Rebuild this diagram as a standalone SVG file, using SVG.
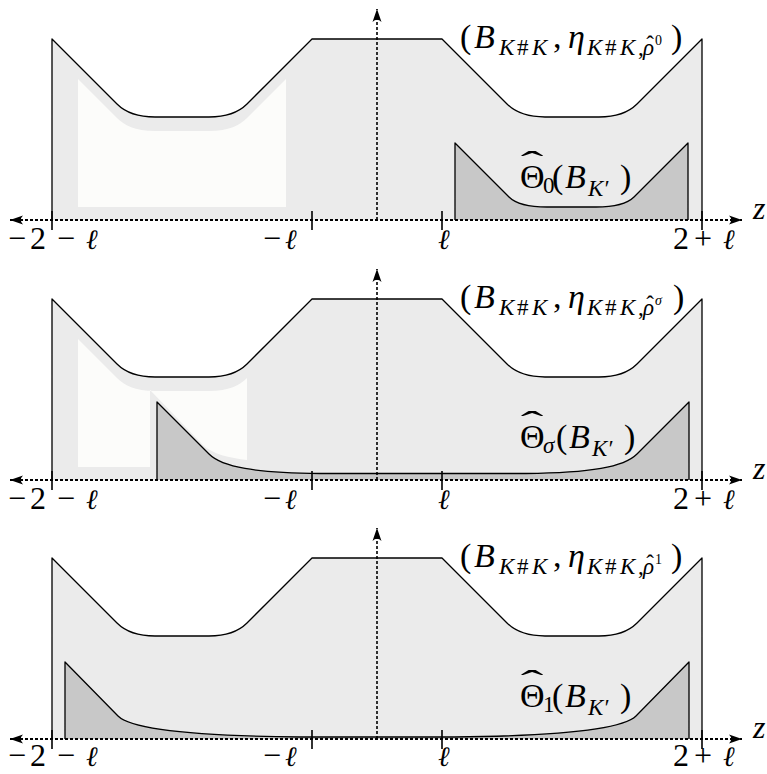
<svg xmlns="http://www.w3.org/2000/svg" width="767" height="774" viewBox="0 0 767 774">
<style>
.bg{fill:#ffffff}
.main{fill:#ebebeb;stroke:#000;stroke-width:1.3;stroke-linejoin:round}
.white{fill:#fcfcfa}
.theta{fill:#c8c8c8;stroke:#000;stroke-width:1.3;stroke-linejoin:round}
.axis{fill:none;stroke:#000;stroke-width:2;stroke-dasharray:3 2}
.vaxis{fill:none;stroke:#000;stroke-width:1.6;stroke-dasharray:3 2}
.tick{stroke:#000;stroke-width:1.6}
.m{font-family:"Liberation Serif","DejaVu Serif",serif;font-size:34px;fill:#000}
.ax{font-size:32px}
.s{font-size:23px}
.ss{font-size:14px}
.i{font-style:italic}
.ell{font-family:"DejaVu Serif","Liberation Serif",serif;font-style:italic;font-size:28px}
</style>
<defs>
<marker id="arr" viewBox="-14 -6 15 12" refX="0" refY="0" markerWidth="15" markerHeight="12" orient="auto-start-reverse" markerUnits="userSpaceOnUse">
<path d="M0,0 L-13,-4.5 Q-8.5,0 -13,4.5 Z" fill="#000"/>
</marker>
<path id="mainShape" d="M52,220 L52,39 L117,104 C124,111 135,117 155,117 L209,117 C229,117 240,111 247,104 L312,39 L442,39 L507,104 C514,111 525,117 545,117 L599,117 C619,117 630,111 637,104 L702,39 L702,220"/>
</defs>
<rect class="bg" x="0" y="0" width="767" height="774"/>

<!-- Panel 1 -->
<g id="panel1">
<g id="p1-main"><use href="#mainShape" class="main"/>
<path class="white" d="M78,207 L78,79 L117,118 C124,125 135,131 155,131 L209,131 C229,131 240,125 247,118 L286,79 L286,207 Z"/></g>
<g id="p1-theta"><path class="theta" d="M455,220 L455,143 L509,197 C516,204 527,207 547,207 L596,207 C616,207 627,204 634,197 L688,143 L688,220"/></g>
<g id="p1-axes">
<line class="axis" x1="10" y1="220" x2="742" y2="220" marker-start="url(#arr)" marker-end="url(#arr)"/>
<line class="vaxis" x1="377" y1="220" x2="377" y2="9" marker-end="url(#arr)"/>
<path class="tick" d="M52,211V230M312,211V230M442,211V230M702,211V230"/>
</g>
<g id="p1-labels" class="m">
<text x="753" y="219" class="i ax">z</text>
<text y="249" class="ax"><tspan x="8">−</tspan><tspan x="30">2</tspan><tspan x="57">−</tspan><tspan x="86" class="ell">ℓ</tspan></text>
<text y="249" class="ax"><tspan x="263">−</tspan><tspan x="285" class="ell">ℓ</tspan></text>
<text x="438" y="249" class="ell">ℓ</text>
<text y="249" class="ax"><tspan x="673">2</tspan><tspan x="694">+</tspan><tspan x="723" class="ell">ℓ</tspan></text>
<text y="48"><tspan x="460">(</tspan><tspan x="474" class="i">B</tspan><tspan class="s i" x="499" y="55">K</tspan><tspan class="s" x="517" y="55">#</tspan><tspan class="s i" x="532" y="55">K</tspan><tspan x="553" y="48">,</tspan><tspan x="568" class="i">η</tspan><tspan class="s i" x="587" y="55">K</tspan><tspan class="s" x="605" y="55">#</tspan><tspan class="s i" x="620" y="55">K</tspan><tspan class="s" x="638" y="55">,</tspan><tspan class="s i" x="643" y="55">ρ</tspan><tspan class="ss" x="655" y="45">0</tspan><tspan x="671" y="48">)</tspan></text>
<text class="s" x="650" y="52" text-anchor="middle">ˆ</text>
<text transform="translate(532,175) scale(2,1)" text-anchor="middle">ˆ</text>
<text y="188"><tspan x="520">Θ</tspan><tspan class="s" x="543" y="193">0</tspan><tspan x="552" y="188">(</tspan><tspan class="i" x="565">B</tspan><tspan class="s i" x="588" y="196">K′</tspan><tspan x="620" y="188">)</tspan></text>
</g>
</g>

<!-- Panel 2 -->
<g id="panel2" transform="translate(0,260)">
<g id="p2-main"><use href="#mainShape" class="main"/>
<path class="white" d="M78,207 L78,79 L117,118 C124,125 135,131 155,131 L209,131 C229,131 240,125 247,118 L247,200 C230,198 212,194 203,185 L150,130 L150,207 Z"/></g>
<g id="p2-theta"><path class="theta" d="M157,220 L157,142 L209,194 C222,207 255,213 320,213.5 L526,213.5 C591,213 624,207 637,194 L689,142 L689,220"/></g>
<g id="p2-axes">
<line class="axis" x1="10" y1="220" x2="742" y2="220" marker-start="url(#arr)" marker-end="url(#arr)"/>
<line class="vaxis" x1="377" y1="220" x2="377" y2="9" marker-end="url(#arr)"/>
<path class="tick" d="M52,211V230M312,211V230M442,211V230M702,211V230"/>
</g>
<g id="p2-labels" class="m">
<text x="753" y="219" class="i ax">z</text>
<text y="249" class="ax"><tspan x="8">−</tspan><tspan x="30">2</tspan><tspan x="57">−</tspan><tspan x="86" class="ell">ℓ</tspan></text>
<text y="249" class="ax"><tspan x="263">−</tspan><tspan x="285" class="ell">ℓ</tspan></text>
<text x="438" y="249" class="ell">ℓ</text>
<text y="249" class="ax"><tspan x="673">2</tspan><tspan x="694">+</tspan><tspan x="723" class="ell">ℓ</tspan></text>
<text y="48"><tspan x="460">(</tspan><tspan x="474" class="i">B</tspan><tspan class="s i" x="499" y="55">K</tspan><tspan class="s" x="517" y="55">#</tspan><tspan class="s i" x="532" y="55">K</tspan><tspan x="553" y="48">,</tspan><tspan x="568" class="i">η</tspan><tspan class="s i" x="587" y="55">K</tspan><tspan class="s" x="605" y="55">#</tspan><tspan class="s i" x="620" y="55">K</tspan><tspan class="s" x="638" y="55">,</tspan><tspan class="s i" x="643" y="55">ρ</tspan><tspan class="ss i" x="655" y="45">σ</tspan><tspan x="673" y="48">)</tspan></text>
<text class="s" x="650" y="52" text-anchor="middle">ˆ</text>
<text transform="translate(532,175) scale(2,1)" text-anchor="middle">ˆ</text>
<text y="188"><tspan x="520">Θ</tspan><tspan class="s i" x="543" y="193">σ</tspan><tspan x="556" y="188">(</tspan><tspan class="i" x="569">B</tspan><tspan class="s i" x="592" y="196">K′</tspan><tspan x="624" y="188">)</tspan></text>
</g>
</g>

<!-- Panel 3 -->
<g id="panel3" transform="translate(0,519)">
<g id="p3-main"><use href="#mainShape" class="main"/></g>
<g id="p3-theta"><path class="theta" d="M65,220 L65,143 L118,197 C132,211 200,217 300,218 L454,218 C554,217 622,211 636,197 L689,143 L689,220"/></g>
<g id="p3-axes">
<line class="axis" x1="10" y1="220" x2="742" y2="220" marker-start="url(#arr)" marker-end="url(#arr)"/>
<line class="vaxis" x1="377" y1="220" x2="377" y2="9" marker-end="url(#arr)"/>
<path class="tick" d="M52,211V230M312,211V230M442,211V230M702,211V230"/>
</g>
<g id="p3-labels" class="m">
<text x="753" y="219" class="i ax">z</text>
<text y="247" class="ax"><tspan x="8">−</tspan><tspan x="30">2</tspan><tspan x="57">−</tspan><tspan x="86" class="ell">ℓ</tspan></text>
<text y="247" class="ax"><tspan x="263">−</tspan><tspan x="285" class="ell">ℓ</tspan></text>
<text x="438" y="247" class="ell">ℓ</text>
<text y="247" class="ax"><tspan x="673">2</tspan><tspan x="694">+</tspan><tspan x="723" class="ell">ℓ</tspan></text>
<text y="48"><tspan x="460">(</tspan><tspan x="474" class="i">B</tspan><tspan class="s i" x="499" y="55">K</tspan><tspan class="s" x="517" y="55">#</tspan><tspan class="s i" x="532" y="55">K</tspan><tspan x="553" y="48">,</tspan><tspan x="568" class="i">η</tspan><tspan class="s i" x="587" y="55">K</tspan><tspan class="s" x="605" y="55">#</tspan><tspan class="s i" x="620" y="55">K</tspan><tspan class="s" x="638" y="55">,</tspan><tspan class="s i" x="643" y="55">ρ</tspan><tspan class="ss" x="655" y="45">1</tspan><tspan x="671" y="48">)</tspan></text>
<text class="s" x="650" y="52" text-anchor="middle">ˆ</text>
<text transform="translate(532,175) scale(2,1)" text-anchor="middle">ˆ</text>
<text y="188"><tspan x="520">Θ</tspan><tspan class="s" x="543" y="193">1</tspan><tspan x="552" y="188">(</tspan><tspan class="i" x="565">B</tspan><tspan class="s i" x="588" y="196">K′</tspan><tspan x="620" y="188">)</tspan></text>
</g>
</g>
</svg>
